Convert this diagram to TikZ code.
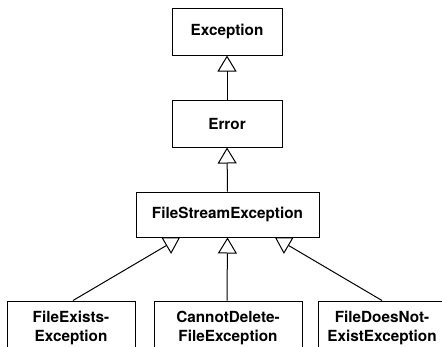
\documentclass[tikz,border=0pt]{standalone}
\usepackage{fontspec}
\setmainfont{TeX Gyre Heros}
\usetikzlibrary{arrows.meta}
\tikzset{
  cls/.style={draw, line width=1pt, rectangle, inner sep=0pt, align=center,
    font=\fontsize{15.3}{19}\selectfont\bfseries},
  inh/.style={line width=1pt, -{Triangle[open, length=16pt, width=19pt, line width=1pt]}}
}
\begin{document}
\begin{tikzpicture}[x=1pt, y=-1pt]
\useasboundingbox (0,0) rectangle (442,346);
\clip (0,0) rectangle (442,346);
\node[cls, minimum width=110pt, minimum height=47pt] (exc) at (227,31.5) {Exception};
\node[cls, minimum width=110pt, minimum height=47pt] (err) at (227,123.5) {Error};
\node[cls, minimum width=183pt, minimum height=45pt] (fse) at (227.5,214.5) {FileStreamException};
\node[cls, minimum width=128pt, minimum height=54pt] (fee) at (71,328) {FileExists-\\Exception};
\node[cls, minimum width=148pt, minimum height=54pt] (cdf) at (228,328) {CannotDelete-\\FileException};
\node[cls, minimum width=128pt, minimum height=54pt] (fdn) at (382,328) {FileDoesNot-\\ExistException};
\draw[inh] (err.north) -- (exc.south);
\draw[inh] (fse.north) -- (err.south);
\draw[inh] ([xshift=2pt]fee.north) -- ([xshift=-47.5pt]fse.south);
\draw[inh] ([xshift=-1pt]cdf.north) -- (fse.south);
\draw[inh] (fdn.north) -- ([xshift=47.5pt]fse.south);
\end{tikzpicture}
\end{document}
